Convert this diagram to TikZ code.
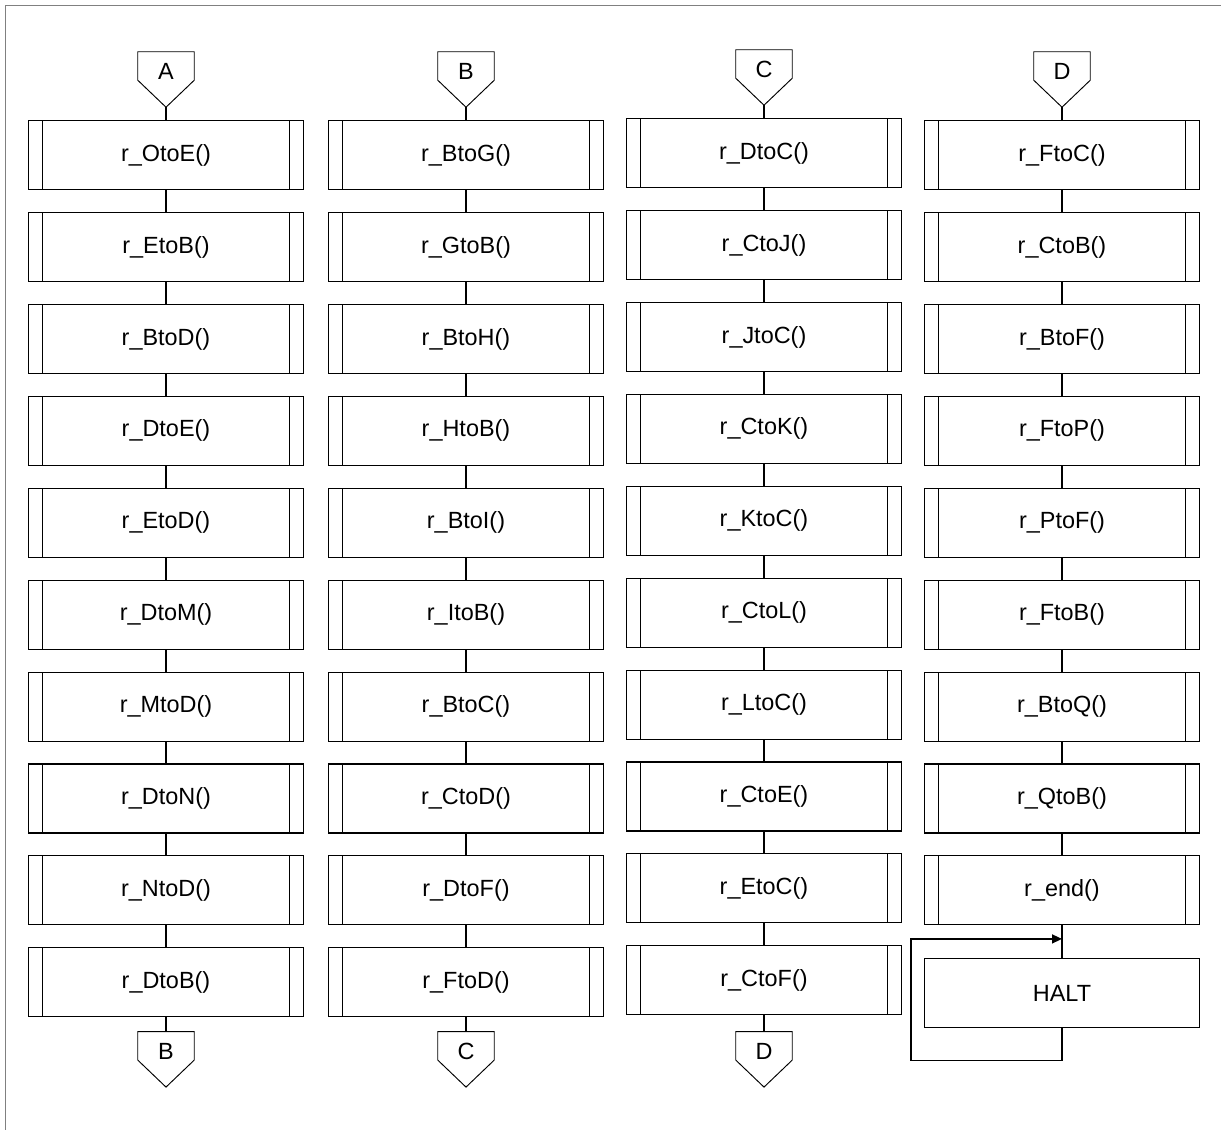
\documentclass[tikz,border=0pt]{standalone}
\usepackage{fontspec}
\setmainfont{Liberation Sans}
\usepackage{tikz}
\usetikzlibrary{
	arrows.meta,
	positioning,
	calc
}

\begin{document}
\begin{tikzpicture}[
			proc/.style={
				rectangle, draw, line width=0.9pt,
				minimum width=8.25cm, minimum height=2.07cm,
				align=center, font=\fontsize{20}{24}\selectfont,
				path picture={
					\draw[line width=0.9pt]
					([xshift=0.42cm]path picture bounding box.north west) -- ([xshift=0.42cm]path picture bounding box.south west)
					([xshift=-0.42cm]path picture bounding box.north east) -- ([xshift=-0.42cm]path picture bounding box.south east);
				}
			},
			stop/.style={
				rectangle, draw, line width=0.9pt,
				minimum width=8.25cm, minimum height=2.07cm,
				align=center, font=\fontsize{20}{24}\selectfont
			},
			conn/.style={
				rectangle, inner sep=0pt,
				minimum width=1.68cm, minimum height=0.84cm,
				text height=0.84cm, text depth=0pt,
				font=\fontsize{20}{24}\selectfont,
				append after command={\pgfextra{
					\draw[line width=0.8pt] (\tikzlastnode.south west) -- (\tikzlastnode.north west)
					-- (\tikzlastnode.north east) -- (\tikzlastnode.south east)
					-- ([yshift=-0.81cm]\tikzlastnode.south) -- cycle;
				}}
			},
			link/.style={line width=1.2pt},
			arrow/.style={-{Triangle[length=0.3cm,width=0.27cm]}, line width=1.2pt},
			frame/.style={line width=1.6pt, black!50}
			]
			
			\useasboundingbox (0,0) rectangle (36.63,-33.9);
			\draw[frame] (0.165,-33.9) |- (36.63,-0.165);
			
			% ---------------- column A ----------------
			\node[conn] (inA) at (4.98,-1.98) {A};
			\node[proc, below=1.2cm of inA] (OtoE) {r\_OtoE()};
			\draw[link] ([yshift=-0.81cm]inA.south) -- (OtoE);
			\node[proc, below=0.655cm of OtoE] (EtoB) {r\_EtoB()};
			\draw[link] (OtoE) -- (EtoB);
			\node[proc, below=0.655cm of EtoB] (BtoD) {r\_BtoD()};
			\draw[link] (EtoB) -- (BtoD);
			\node[proc, below=0.655cm of BtoD] (DtoE) {r\_DtoE()};
			\draw[link] (BtoD) -- (DtoE);
			\node[proc, below=0.655cm of DtoE] (EtoD) {r\_EtoD()};
			\draw[link] (DtoE) -- (EtoD);
			\node[proc, below=0.655cm of EtoD] (DtoM) {r\_DtoM()};
			\draw[link] (EtoD) -- (DtoM);
			\node[proc, below=0.655cm of DtoM] (MtoD) {r\_MtoD()};
			\draw[link] (DtoM) -- (MtoD);
			\node[proc, below=0.655cm of MtoD] (DtoN) {r\_DtoN()};
			\draw[link] (MtoD) -- (DtoN);
			\node[proc, below=0.655cm of DtoN] (NtoD) {r\_NtoD()};
			\draw[link] (DtoN) -- (NtoD);
			\node[proc, below=0.655cm of NtoD] (DtoB) {r\_DtoB()};
			\draw[link] (NtoD) -- (DtoB);
			\node[conn, below=0.43cm of DtoB] (outB) {B};
			\draw[link] (DtoB) -- (outB);
			
			% ---------------- column B ----------------
			\node[conn] (inB) at (13.98,-1.98) {B};
			\node[proc, below=1.2cm of inB] (BtoG) {r\_BtoG()};
			\draw[link] ([yshift=-0.81cm]inB.south) -- (BtoG);
			\node[proc, below=0.655cm of BtoG] (GtoB) {r\_GtoB()};
			\draw[link] (BtoG) -- (GtoB);
			\node[proc, below=0.655cm of GtoB] (BtoH) {r\_BtoH()};
			\draw[link] (GtoB) -- (BtoH);
			\node[proc, below=0.655cm of BtoH] (HtoB) {r\_HtoB()};
			\draw[link] (BtoH) -- (HtoB);
			\node[proc, below=0.655cm of HtoB] (BtoI) {r\_BtoI()};
			\draw[link] (HtoB) -- (BtoI);
			\node[proc, below=0.655cm of BtoI] (ItoB) {r\_ItoB()};
			\draw[link] (BtoI) -- (ItoB);
			\node[proc, below=0.655cm of ItoB] (BtoC) {r\_BtoC()};
			\draw[link] (ItoB) -- (BtoC);
			\node[proc, below=0.655cm of BtoC] (CtoD) {r\_CtoD()};
			\draw[link] (BtoC) -- (CtoD);
			\node[proc, below=0.655cm of CtoD] (DtoF) {r\_DtoF()};
			\draw[link] (CtoD) -- (DtoF);
			\node[proc, below=0.655cm of DtoF] (FtoD) {r\_FtoD()};
			\draw[link] (DtoF) -- (FtoD);
			\node[conn, below=0.43cm of FtoD] (outC) {C};
			\draw[link] (FtoD) -- (outC);
			
			% ---------------- column C ----------------
			\node[conn] (inC) at (22.92,-1.92) {C};
			\node[proc, below=1.2cm of inC] (DtoC) {r\_DtoC()};
			\draw[link] ([yshift=-0.81cm]inC.south) -- (DtoC);
			\node[proc, below=0.655cm of DtoC] (CtoJ) {r\_CtoJ()};
			\draw[link] (DtoC) -- (CtoJ);
			\node[proc, below=0.655cm of CtoJ] (JtoC) {r\_JtoC()};
			\draw[link] (CtoJ) -- (JtoC);
			\node[proc, below=0.655cm of JtoC] (CtoK) {r\_CtoK()};
			\draw[link] (JtoC) -- (CtoK);
			\node[proc, below=0.655cm of CtoK] (KtoC) {r\_KtoC()};
			\draw[link] (CtoK) -- (KtoC);
			\node[proc, below=0.655cm of KtoC] (CtoL) {r\_CtoL()};
			\draw[link] (KtoC) -- (CtoL);
			\node[proc, below=0.655cm of CtoL] (LtoC) {r\_LtoC()};
			\draw[link] (CtoL) -- (LtoC);
			\node[proc, below=0.655cm of LtoC] (CtoE) {r\_CtoE()};
			\draw[link] (LtoC) -- (CtoE);
			\node[proc, below=0.655cm of CtoE] (EtoC) {r\_EtoC()};
			\draw[link] (CtoE) -- (EtoC);
			\node[proc, below=0.655cm of EtoC] (CtoF) {r\_CtoF()};
			\draw[link] (EtoC) -- (CtoF);
			\node[conn, below=0.49cm of CtoF] (outD) {D};
			\draw[link] (CtoF) -- (outD);
			
			% ---------------- column D ----------------
			\node[conn] (inD) at (31.86,-1.98) {D};
			\node[proc, below=1.2cm of inD] (FtoC) {r\_FtoC()};
			\draw[link] ([yshift=-0.81cm]inD.south) -- (FtoC);
			\node[proc, below=0.655cm of FtoC] (CtoB) {r\_CtoB()};
			\draw[link] (FtoC) -- (CtoB);
			\node[proc, below=0.655cm of CtoB] (BtoF) {r\_BtoF()};
			\draw[link] (CtoB) -- (BtoF);
			\node[proc, below=0.655cm of BtoF] (FtoP) {r\_FtoP()};
			\draw[link] (BtoF) -- (FtoP);
			\node[proc, below=0.655cm of FtoP] (PtoF) {r\_PtoF()};
			\draw[link] (FtoP) -- (PtoF);
			\node[proc, below=0.655cm of PtoF] (FtoB) {r\_FtoB()};
			\draw[link] (PtoF) -- (FtoB);
			\node[proc, below=0.655cm of FtoB] (BtoQ) {r\_BtoQ()};
			\draw[link] (FtoB) -- (BtoQ);
			\node[proc, below=0.655cm of BtoQ] (QtoB) {r\_QtoB()};
			\draw[link] (BtoQ) -- (QtoB);
			\node[proc, below=0.655cm of QtoB] (rEnd) {r\_end()};
			\draw[link] (QtoB) -- (rEnd);
			
			% HALT loops back onto itself
			\node[stop, below=0.99cm of rEnd] (halt) {HALT};
			\draw[link] (rEnd) -- (halt);
			\coordinate (loopIn) at ($(rEnd.south)!0.41!(halt.north)$);
			\draw[arrow] (halt.south) -- ++(0,-0.96) -| ($(halt.west |- loopIn)+(-0.39,0)$) -- (loopIn);
		\end{tikzpicture}
\end{document}
